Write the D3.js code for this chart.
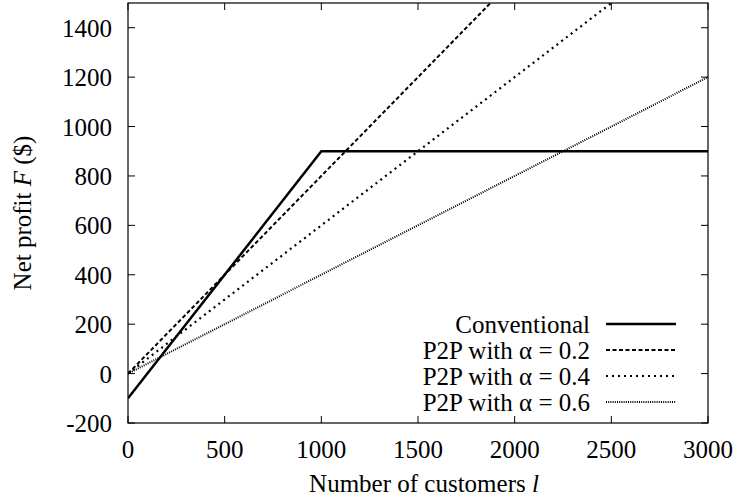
<!DOCTYPE html>
<html>
<head>
<meta charset="utf-8">
<script src="https://cdn.jsdelivr.net/npm/d3@7"></script>
<style>
    body { margin: 0; background: #fff; }
</style>
</head>
<body>
<svg id="chart" width="735" height="503"></svg>
<script>
'use strict';

// customers l (x values of each series' knots)
const conventional_x = [0, 1000, 3000];
const conventional_y = [-100, 900, 900];

const p2p_02_x = [0, 1875];
const p2p_02_y = [0, 1500];

const p2p_04_x = [0, 2500];
const p2p_04_y = [0, 1500];

const p2p_06_x = [0, 3000];
const p2p_06_y = [0, 1200];

const series_names = ['Conventional', 'P2P with \u03b1 = 0.2', 'P2P with \u03b1 = 0.4', 'P2P with \u03b1 = 0.6'];
const x_ticks = [0, 500, 1000, 1500, 2000, 2500, 3000];
const y_ticks = [-200, 0, 200, 400, 600, 800, 1000, 1200, 1400];

const width = 735;
const height = 503;
const margin = { top: 3, right: 27, bottom: 80, left: 128 };
const font = 'Liberation Serif';

const svg = d3.select('#chart');

const x = d3.scaleLinear()
    .domain([0, 3000])
    .range([margin.left, width - margin.right]);

const y = d3.scaleLinear()
    .domain([-200, 1500])
    .range([height - margin.bottom, margin.top]);

const tick_len = 7;
const font_size = 25;

// ticks, mirrored on all four sides, pointing inward
const axes = svg.append('g').attr('stroke', '#000').attr('stroke-width', 1);
x_ticks.forEach(t => {
    axes.append('line')
        .attr('x1', x(t)).attr('x2', x(t))
        .attr('y1', y(-200)).attr('y2', y(-200) - tick_len);
    axes.append('line')
        .attr('x1', x(t)).attr('x2', x(t))
        .attr('y1', y(1500)).attr('y2', y(1500) + tick_len);
});
y_ticks.forEach(t => {
    axes.append('line')
        .attr('x1', x(0)).attr('x2', x(0) + tick_len)
        .attr('y1', y(t)).attr('y2', y(t));
    axes.append('line')
        .attr('x1', x(3000)).attr('x2', x(3000) - tick_len)
        .attr('y1', y(t)).attr('y2', y(t));
});

// tick labels
svg.append('g')
    .selectAll('text')
    .data(x_ticks)
    .join('text')
        .attr('x', d => x(d))
        .attr('y', 458)
        .attr('text-anchor', 'middle')
        .style('font-family', font)
        .attr('font-size', font_size)
        .text(d => d);

svg.append('g')
    .selectAll('text')
    .data(y_ticks)
    .join('text')
        .attr('x', 112)
        .attr('y', d => y(d) + 9)
        .attr('text-anchor', 'end')
        .style('font-family', font)
        .attr('font-size', font_size)
        .text(d => d);

// axis titles
const xt = svg.append('text')
    .attr('x', x(1500) + 6)
    .attr('y', 492)
    .attr('text-anchor', 'middle')
    .style('font-family', font)
    .attr('font-size', font_size);
xt.append('tspan').text('Number of customers ');
xt.append('tspan').attr('font-style', 'italic').text('l');

const yt = svg.append('text')
    .attr('transform', `translate(31, ${y(650)}) rotate(-90)`)
    .attr('text-anchor', 'middle')
    .style('font-family', font)
    .attr('font-size', font_size);
yt.append('tspan').text('Net profit ');
yt.append('tspan').attr('font-style', 'italic').text('F');
yt.append('tspan').text(' ($)');

// series
const styles = [
    { width: 2.5, dash: null },
    { width: 2, dash: '4,2.5' },
    { width: 2.2, dash: '2,4' },
    { width: 2, dash: '1,1.2' }
];

const series = [
    d3.zip(conventional_x, conventional_y),
    d3.zip(p2p_02_x, p2p_02_y),
    d3.zip(p2p_04_x, p2p_04_y),
    d3.zip(p2p_06_x, p2p_06_y)
];

const line = d3.line()
    .x(d => x(d[0]))
    .y(d => y(d[1]));

svg.append('clipPath').attr('id', 'plot-clip')
    .append('rect')
    .attr('x', x(0)).attr('y', y(1500))
    .attr('width', x(3000) - x(0)).attr('height', y(-200) - y(1500));

svg.append('g')
    .attr('clip-path', 'url(#plot-clip)')
    .selectAll('path')
    .data(series)
    .join('path')
        .attr('d', line)
        .attr('fill', 'none')
        .attr('stroke', '#000')
        .attr('stroke-width', (d, i) => styles[i].width)
        .attr('stroke-dasharray', (d, i) => styles[i].dash);

// frame
svg.append('rect')
    .attr('x', x(0)).attr('y', y(1500))
    .attr('width', x(3000) - x(0)).attr('height', y(-200) - y(1500))
    .attr('fill', 'none')
    .attr('stroke', '#000')
    .attr('stroke-width', 1.2);

// legend
const legend = svg.append('g');
series_names.forEach((name, i) => {
    const ly = 324 + i * 26;
    legend.append('text')
        .attr('x', 590)
        .attr('y', ly + 9)
        .attr('text-anchor', 'end')
        .style('font-family', font)
        .attr('font-size', font_size)
        .text(name);
    legend.append('line')
        .attr('x1', 606).attr('x2', 676)
        .attr('y1', ly).attr('y2', ly)
        .attr('stroke', '#000')
        .attr('stroke-width', styles[i].width)
        .attr('stroke-dasharray', styles[i].dash);
});
</script>
</body>
</html>
